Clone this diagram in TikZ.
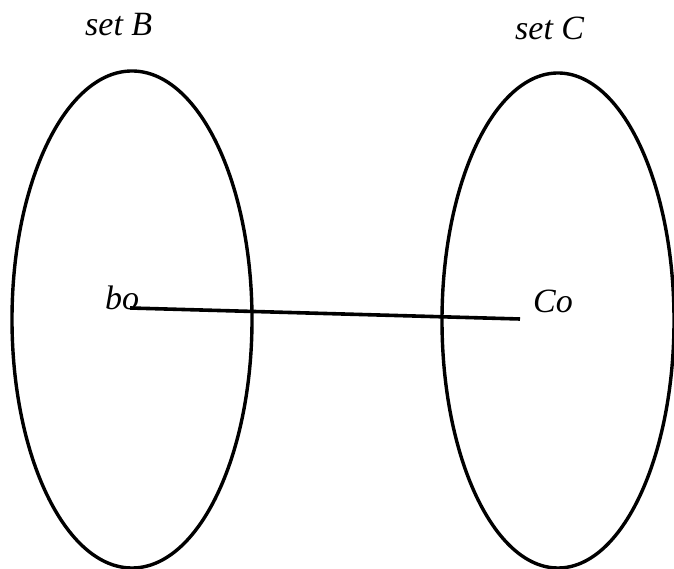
\documentclass[tikz,border=0pt]{standalone}
\usepackage{fontspec}
\setmainfont{Liberation Serif}
\begin{document}
\begin{tikzpicture}[x=1pt,y=1pt,
  setline/.style={line width=3.4pt,black},
  lbl/.style={anchor=base west,inner sep=0pt,font=\fontsize{34}{40}\selectfont\itshape}]
\useasboundingbox (0,0) rectangle (674,569);
\draw[setline] (132,249.5) ellipse [x radius=120,y radius=248.5];
\draw[setline] (558,248.5) ellipse [x radius=116,y radius=247.5];
\node[lbl] (tB) at (85,533) {set B};
\node[lbl] (tC) at (515,529) {set C};
\node[lbl] (bo) at (105,259) {bo};
\node[lbl] (co) at (533,256) {Co};
\coordinate (p) at (130,261);
\coordinate (q) at (520,250);
\draw[line width=3.6pt] (p) -- (q);
\end{tikzpicture}
\end{document}
